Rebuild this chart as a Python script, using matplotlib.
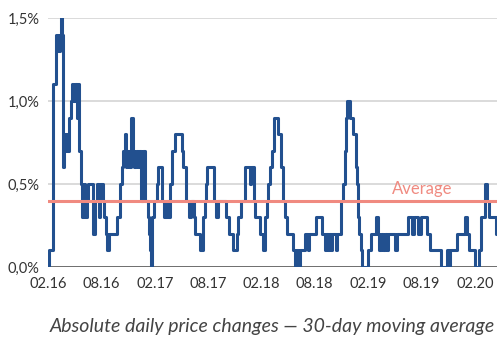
import matplotlib
matplotlib.use('Agg')
import matplotlib.pyplot as plt
import matplotlib.dates as mdates
import numpy as np
import datetime as dt

plt.rcParams['font.family'] = ['Lato', 'DejaVu Sans']

# 30-day moving average of absolute daily price changes (%), step changes
start = dt.date(2016, 2, 1)
days = [0, 3, 16, 18, 27, 31, 34, 38, 41, 43, 47, 50, 55, 59, 62, 66, 71, 73, 78, 82,
        87, 92, 98, 103, 107, 114, 117, 124, 128, 132, 138, 155, 161, 169, 174, 178,
        189, 193, 198, 202, 208, 235, 246, 253, 258, 262, 267, 271, 277, 283, 290,
        295, 301, 308, 312, 318, 324, 333, 343, 346, 349, 352, 357, 364, 372, 377,
        390, 398, 406, 411, 417, 424, 435, 458, 462, 472, 483, 491, 499, 504, 520,
        531, 536, 540, 545, 568, 575, 581, 611, 620, 634, 647, 652, 659, 675, 691,
        695, 705, 708, 725, 735, 742, 749, 752, 759, 766, 773, 787, 799, 804, 811,
        817, 838, 845, 852, 855, 862, 879, 889, 893, 917, 937, 947, 951, 958, 961,
        968, 971, 985, 988, 1002, 1009, 1016, 1019, 1023, 1033, 1045, 1053, 1058,
        1062, 1065, 1070, 1075, 1094, 1105, 1122, 1129, 1132, 1139, 1146, 1152,
        1159, 1163, 1187, 1194, 1231, 1245, 1252, 1265, 1276, 1296, 1306, 1347,
        1365, 1371, 1375, 1399, 1429, 1436, 1440, 1460, 1474, 1481, 1496, 1503,
        1508, 1532, 1537]
values = [0.0, 0.1, 0.3, 1.1, 1.4, 1.3, 1.4, 1.3, 1.4, 1.5, 1.4, 0.6, 0.8, 0.7, 0.8,
          0.7, 0.8, 0.9, 1.0, 1.1, 1.0, 1.1, 0.9, 1.1, 0.7, 0.5, 0.3, 0.5, 0.3, 0.4,
          0.5, 0.2, 0.4, 0.5, 0.3, 0.5, 0.4, 0.3, 0.2, 0.1, 0.2, 0.3, 0.5, 0.6, 0.7,
          0.8, 0.6, 0.7, 0.6, 0.9, 0.7, 0.6, 0.7, 0.6, 0.7, 0.4, 0.7, 0.4, 0.3, 0.2,
          0.1, 0.0, 0.3, 0.4, 0.5, 0.6, 0.4, 0.3, 0.4, 0.3, 0.5, 0.7, 0.8, 0.7, 0.6,
          0.4, 0.3, 0.4, 0.3, 0.2, 0.1, 0.3, 0.4, 0.5, 0.6, 0.4, 0.3, 0.4, 0.3, 0.2,
          0.1, 0.2, 0.3, 0.4, 0.6, 0.5, 0.6, 0.4, 0.3, 0.2, 0.1, 0.3, 0.4, 0.5, 0.6,
          0.7, 0.9, 0.8, 0.6, 0.4, 0.3, 0.2, 0.1, 0.0, 0.1, 0.0, 0.1, 0.2, 0.1, 0.2,
          0.3, 0.2, 0.1, 0.2, 0.1, 0.2, 0.1, 0.2, 0.1, 0.2, 0.4, 0.5, 0.7, 0.9, 1.0,
          0.9, 0.8, 0.6, 0.5, 0.3, 0.2, 0.1, 0.0, 0.1, 0.2, 0.3, 0.2, 0.1, 0.2, 0.1,
          0.2, 0.1, 0.2, 0.1, 0.2, 0.3, 0.2, 0.3, 0.2, 0.3, 0.2, 0.1, 0.0, 0.1, 0.0,
          0.1, 0.2, 0.3, 0.2, 0.1, 0.0, 0.1, 0.3, 0.5, 0.4, 0.3, 0.2, 0.2]
average = 0.4

yticks = [0.0, 0.5, 1.0, 1.5]
ytick_labels = ['0,0%', '0,5%', '1,0%', '1,5%']
xtick_dates = [dt.date(2016, 2, 1), dt.date(2016, 8, 1), dt.date(2017, 2, 1),
               dt.date(2017, 8, 1), dt.date(2018, 2, 1), dt.date(2018, 8, 1),
               dt.date(2019, 2, 1), dt.date(2019, 8, 1), dt.date(2020, 2, 1)]

dates = [start + dt.timedelta(days=d) for d in days]

fig = plt.figure(figsize=(5, 3.4), dpi=100)
ax = fig.add_axes([0.096, 0.2147, 0.898, 0.7323])

for y in yticks[1:]:
    ax.axhline(y, color='#d4d4d4', lw=1.2, zorder=1)
ax.axhline(0, color='#555555', lw=1.2, zorder=1)

ax.plot(dates, values, drawstyle='steps-post', color='#22508f', lw=2.2, zorder=3)
ax.axhline(average, color='#f08a80', lw=2.2, zorder=4)
ax.text(dt.date(2019, 4, 25), average + 0.02, 'Average', color='#f08a80',
        fontsize=12, ha='left', va='bottom')

ax.set_xlim(dates[0], dates[-1])
ax.set_ylim(0, 1.5)
ax.set_yticks(yticks)
ax.set_yticklabels(ytick_labels)
ax.set_xticks(xtick_dates)
ax.xaxis.set_major_formatter(mdates.DateFormatter('%m.%y'))
ax.tick_params(length=0, labelsize=10.5, colors='#333333')
ax.tick_params(axis='x', pad=7)
ax.tick_params(axis='y', pad=6)
for s in ax.spines.values():
    s.set_visible(False)

fig.text(0.99, 0.04, 'Absolute daily price changes \u2014 30-day moving average',
         ha='right', va='center', style='italic', fontsize=14, color='#444444')

fig.savefig('out.png', dpi=100)
